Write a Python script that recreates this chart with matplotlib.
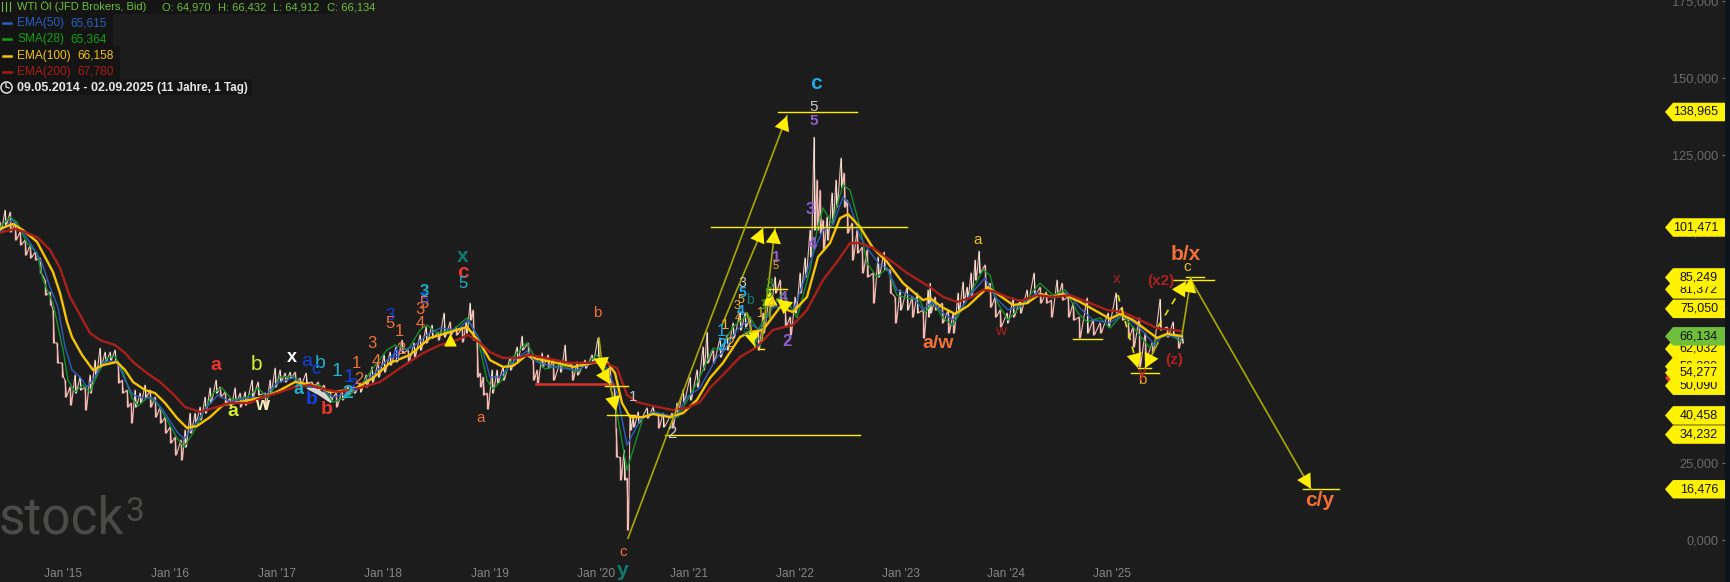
import numpy as np
import matplotlib
matplotlib.use("Agg")
import matplotlib.pyplot as plt
from matplotlib.patches import Rectangle
from matplotlib.lines import Line2D

plt.rcParams["font.family"] = ["Liberation Sans", "DejaVu Sans"]

W, H = 1730, 582
BG = "#1c1c1c"

# x is the chart column (the axis runs on sessions, so years are not evenly spaced)
tick_pos = [63, 170, 277, 383, 490, 596, 689, 795, 901, 1006, 1112]
tick_labels = ["Jan '15", "Jan '16", "Jan '17", "Jan '18", "Jan '19", "Jan '20",
               "Jan '21", "Jan '22", "Jan '23", "Jan '24", "Jan '25"]
price_ticks = [0, 25, 50, 75, 100, 125, 150, 175]

# price range per column: x, high, low
bars_x = [0, 5, 10, 15, 20, 25, 30, 35, 40, 45, 50, 53, 57, 62, 65, 70, 75, 80, 85, 90, 95, 100, 105, 110, 115, 118,
          122, 127, 131, 135, 140, 145, 150, 155, 160, 165, 170, 175, 181, 185, 190, 195, 200, 205, 210, 216, 220,
          225, 230, 235, 240, 245, 252, 258, 265, 270, 275, 280, 285, 290, 295, 300, 306, 312, 318, 324, 330, 336,
          342, 348, 354, 360, 366, 372, 378, 384, 390, 396, 402, 408, 414, 420, 426, 432, 438, 444, 450, 456, 462,
          466, 470, 473, 477, 480, 483, 487, 492, 497, 503, 510, 517, 522, 528, 533, 537, 542, 548, 553, 560, 565,
          572, 577, 585, 592, 598, 603, 610, 614, 616, 620, 624, 627, 630, 633, 638, 647, 653, 658, 663, 672, 677,
          683, 690, 697, 703, 707, 713, 720, 727, 733, 740, 745, 750, 758, 763, 770, 775, 780, 785, 790, 795, 800,
          805, 810, 814, 817, 820, 823, 827, 832, 836, 841, 844, 847, 852, 857, 862, 867, 873, 878, 884, 890, 895,
          900, 907, 912, 917, 923, 928, 930, 935, 942, 948, 953, 958, 963, 967, 971, 975, 979, 985, 990, 995, 1000,
          1007, 1013, 1020, 1027, 1034, 1040, 1046, 1051, 1057, 1062, 1068, 1073, 1079, 1087, 1093, 1100, 1108,
          1116, 1122, 1128, 1133, 1139, 1145, 1152, 1160, 1167, 1173, 1178, 1182]
bars_high = [103.2, 107.1, 106.5, 103.2, 100.0, 97.4, 95.8, 93.5, 91.6, 84.4, 80.5, 74.7, 64.0, 57.5, 51.9, 49.7, 53.6,
             52.9, 49.7, 53.6, 58.4, 62.3, 61.0, 61.0, 61.7, 57.5, 51.9, 48.7, 44.5, 48.7, 47.7, 50.3, 48.7, 46.4,
             43.2, 39.9, 36.7, 33.4, 32.5, 35.7, 41.2, 41.2, 43.2, 46.4, 49.4, 51.9, 49.7, 48.1, 46.1, 49.4, 47.7,
             48.1, 51.9, 51.3, 47.7, 51.9, 55.8, 55.2, 54.2, 54.5, 54.5, 52.6, 54.2, 51.3, 51.3, 50.3, 48.7, 47.7,
             48.7, 49.7, 49.7, 51.0, 53.6, 56.2, 57.8, 60.1, 61.0, 62.7, 64.9, 61.7, 64.0, 66.6, 69.2, 69.8, 67.5,
             73.7, 70.8, 69.2, 68.8, 70.8, 76.9, 74.7, 64.9, 54.2, 52.9, 47.7, 55.2, 55.2, 56.2, 59.4, 62.7, 66.2,
             64.0, 58.4, 55.2, 60.7, 60.1, 58.4, 57.8, 63.3, 56.8, 57.8, 58.4, 60.1, 65.6, 59.1, 56.2, 49.7, 36.4,
             26.9, 29.2, 20.1, 40.6, 39.9, 41.6, 42.9, 43.2, 41.2, 41.2, 41.2, 44.5, 48.7, 52.9, 55.2, 62.7, 67.5,
             61.7, 65.6, 66.6, 70.5, 74.0, 73.7, 72.4, 68.2, 73.7, 81.2, 85.4, 84.4, 75.6, 72.4, 78.9, 86.7, 91.6,
             100.6, 130.8, 116.9, 113.6, 103.9, 104.9, 112.7, 116.9, 124.0, 119.2, 110.4, 102.9, 100.6, 95.1, 94.2,
             86.7, 91.9, 93.5, 87.7, 78.9, 81.2, 82.1, 78.9, 80.2, 74.7, 81.2, 83.4, 78.9, 76.9, 74.7, 73.7, 80.2,
             83.8, 82.1, 86.7, 90.9, 93.8, 89.3, 83.4, 78.9, 74.7, 73.7, 78.6, 77.9, 81.2, 86.7, 82.1, 80.5, 77.9,
             84.4, 83.4, 78.9, 76.9, 72.4, 78.6, 71.4, 70.5, 73.7, 80.2, 75.6, 72.4, 69.2, 72.1, 67.2, 64.0, 78.2,
             69.2, 70.8, 65.9, 66.6]
bars_low = [100.0, 101.9, 100.0, 97.4, 95.8, 92.5, 91.6, 90.9, 86.7, 79.5, 76.3, 64.0, 57.5, 52.9, 46.4, 43.8, 47.7,
            48.7, 42.2, 47.7, 52.9, 56.2, 57.8, 58.4, 57.8, 51.0, 47.7, 43.2, 38.0, 43.2, 44.5, 46.1, 43.2, 39.9,
            38.0, 34.7, 31.5, 27.6, 26.0, 30.2, 34.7, 38.0, 39.0, 41.2, 44.5, 47.7, 46.4, 44.5, 43.2, 44.5, 43.2,
            43.8, 46.4, 47.1, 43.2, 47.7, 49.7, 51.3, 51.3, 52.6, 51.3, 50.3, 51.0, 49.4, 48.7, 46.4, 45.5, 43.2,
            45.5, 47.1, 47.7, 48.1, 49.7, 51.3, 52.9, 54.5, 56.8, 57.8, 60.7, 57.8, 59.4, 61.7, 64.0, 65.6, 64.9,
            65.9, 66.6, 66.6, 64.3, 67.2, 71.4, 64.9, 52.9, 49.7, 47.1, 42.5, 47.7, 51.0, 51.9, 55.2, 57.5, 61.7,
            59.4, 51.9, 51.0, 56.2, 55.8, 51.9, 54.5, 57.5, 51.9, 53.6, 55.8, 57.5, 58.4, 52.9, 49.7, 46.4, 26.9,
            19.5, 19.5, 3.2, 35.7, 36.7, 38.0, 39.6, 41.2, 36.4, 36.7, 36.4, 41.2, 44.5, 45.5, 49.7, 55.2, 57.5,
            57.5, 59.4, 61.7, 65.6, 68.2, 69.2, 67.2, 61.7, 67.2, 75.6, 80.2, 77.9, 69.2, 66.6, 73.7, 80.2, 85.4,
            91.9, 100.6, 100.6, 99.7, 94.2, 97.4, 102.9, 108.1, 114.6, 108.1, 99.7, 90.9, 93.2, 86.7, 85.4, 76.9,
            85.4, 87.7, 80.2, 70.5, 74.7, 74.7, 72.4, 73.7, 65.6, 72.4, 73.7, 74.7, 70.5, 67.2, 67.2, 73.7, 76.9,
            78.9, 78.9, 84.4, 86.7, 81.2, 75.6, 72.4, 69.2, 70.5, 72.4, 73.7, 76.9, 79.5, 76.9, 76.9, 72.4, 78.9,
            77.9, 72.4, 71.4, 65.6, 67.2, 66.6, 67.2, 69.2, 73.7, 71.4, 65.6, 62.7, 56.2, 58.4, 60.7, 68.2, 65.9,
            65.9, 62.3, 64.0]

ema200_x = [0, 15, 25, 38, 50, 60, 70, 80, 90, 100, 115, 125, 133, 147, 160, 173, 185, 200, 217, 230, 250, 263, 277,
            295, 310, 327, 340, 360, 380, 400, 423, 440, 457, 468, 480, 490, 503, 517, 530, 550, 570, 587, 603, 617,
            627, 637, 653, 673, 687, 700, 710, 723, 740, 757, 773, 793, 807, 823, 837, 850, 860, 873, 890, 907, 930,
            943, 957, 970, 983, 993, 1007, 1020, 1037, 1053, 1070, 1087, 1107, 1123, 1140, 1157, 1182]
ema200 = [99.8, 101.0, 100.0, 98.1, 94.2, 88.3, 78.9, 73.1, 67.2, 64.9, 63.3, 60.7, 57.8, 54.2, 51.3, 47.4, 43.2, 41.6,
          43.2, 44.5, 44.5, 46.4, 47.7, 49.7, 50.3, 48.7, 48.1, 49.4, 51.3, 55.8, 60.7, 63.3, 64.9, 66.6, 64.0, 61.0,
          59.1, 59.1, 60.1, 58.8, 57.5, 57.5, 57.8, 55.8, 47.1, 44.8, 43.5, 42.2, 42.9, 44.8, 49.4, 53.6, 59.4, 62.7,
          68.2, 69.8, 74.7, 84.4, 90.3, 96.4, 96.4, 94.8, 90.9, 86.7, 82.1, 78.9, 77.3, 78.6, 81.2, 80.8, 78.9, 77.6,
          79.5, 78.9, 79.5, 77.3, 74.7, 74.0, 71.4, 68.8, 67.8]

ema100_x = [0, 13, 23, 37, 45, 53, 60, 67, 72, 82, 93, 103, 117, 125, 133, 145, 155, 165, 177, 187, 197, 210, 223, 240,
            263, 277, 295, 313, 330, 353, 373, 390, 410, 430, 447, 467, 480, 490, 503, 513, 527, 537, 557, 573, 593,
            607, 615, 622, 630, 643, 653, 670, 683, 697, 710, 723, 740, 750, 763, 780, 793, 807, 818, 830, 840, 848,
            860, 873, 887, 903, 923, 930, 942, 955, 968, 988, 1003, 1013, 1027, 1040, 1053, 1063, 1080, 1110, 1120,
            1133, 1157, 1167, 1182]
ema100 = [101.0, 102.6, 100.6, 96.8, 91.9, 87.0, 80.2, 70.8, 65.9, 60.1, 55.2, 56.8, 57.8, 55.2, 51.3, 48.7, 47.7, 44.5,
          39.6, 36.4, 37.0, 39.9, 43.8, 44.8, 46.4, 48.1, 51.3, 50.3, 48.1, 48.7, 52.6, 57.5, 60.1, 65.6, 67.2, 69.2,
          64.0, 58.4, 56.2, 56.5, 60.1, 58.8, 57.5, 56.2, 57.5, 57.8, 54.2, 44.5, 39.9, 39.9, 40.9, 39.9, 41.2, 45.5,
          52.6, 57.5, 65.9, 67.5, 68.2, 75.6, 74.0, 78.9, 91.9, 96.4, 104.5, 105.8, 101.6, 94.8, 90.3, 83.4, 77.9,
          78.6, 75.6, 73.4, 76.0, 82.1, 78.6, 76.3, 76.9, 79.9, 78.9, 79.9, 77.3, 71.8, 73.4, 71.4, 65.6, 66.9, 66.2]

ema50_x = [0, 12, 20, 33, 42, 50, 58, 65, 72, 80, 87, 95, 103, 117, 125, 133, 143, 153, 163, 177, 184, 193, 207, 218,
           230, 250, 263, 277, 293, 307, 320, 333, 353, 373, 390, 403, 413, 427, 440, 457, 468, 480, 490, 500, 513,
           527, 537, 553, 577, 597, 607, 617, 627, 640, 653, 667, 675, 687, 700, 717, 723, 737, 747, 760, 773, 783,
           793, 810, 817, 823, 833, 843, 850, 860, 870, 880, 887, 897, 913, 923, 932, 943, 953, 970, 985, 995, 1008,
           1022, 1037, 1052, 1067, 1080, 1093, 1110, 1122, 1137, 1155, 1163, 1182]
ema50 = [100.0, 103.9, 101.3, 95.1, 89.9, 82.1, 75.6, 62.7, 55.2, 52.9, 49.7, 52.9, 57.8, 58.1, 51.9, 47.1, 46.1, 46.1,
         42.2, 35.1, 32.8, 36.7, 43.2, 47.1, 44.8, 46.4, 46.1, 51.0, 52.6, 49.7, 49.4, 46.4, 48.1, 53.6, 59.4, 61.7,
         62.7, 66.6, 68.8, 68.2, 71.4, 64.9, 52.9, 52.9, 57.8, 61.4, 57.8, 56.2, 55.2, 58.4, 55.8, 47.7, 30.8, 39.0,
         41.6, 40.6, 39.6, 46.4, 49.4, 59.4, 61.0, 68.2, 70.8, 68.2, 75.6, 75.6, 74.0, 89.9, 96.4, 100.6, 102.3, 111.4,
         108.8, 98.4, 93.5, 89.3, 88.3, 81.2, 78.9, 74.7, 77.3, 73.7, 71.4, 79.5, 85.1, 78.9, 74.7, 76.3, 80.5, 78.6,
         80.5, 75.3, 71.4, 70.5, 73.1, 69.8, 63.3, 66.6, 65.6]

sma28_x = [0, 10, 17, 27, 37, 43, 53, 63, 68, 75, 83, 90, 98, 107, 115, 123, 132, 138, 148, 157, 167, 177, 184, 193,
           203, 213, 222, 232, 247, 258, 268, 280, 293, 305, 320, 333, 347, 360, 373, 387, 395, 408, 420, 427, 437,
           453, 467, 477, 487, 493, 502, 513, 527, 535, 545, 560, 577, 597, 607, 617, 627, 637, 643, 653, 670, 678,
           697, 713, 720, 733, 748, 758, 770, 783, 797, 810, 817, 823, 832, 843, 850, 860, 867, 877, 887, 897, 907,
           920, 925, 933, 943, 953, 968, 983, 990, 997, 1008, 1020, 1040, 1053, 1065, 1078, 1087, 1100, 1110, 1122,
           1133, 1150, 1158, 1170, 1182]
sma28 = [101.6, 104.9, 103.2, 96.4, 93.2, 84.4, 76.9, 61.7, 51.9, 48.1, 50.3, 48.1, 54.2, 59.1, 59.7, 54.5, 46.1, 43.5,
         46.4, 44.5, 39.0, 33.1, 30.2, 34.7, 41.2, 47.7, 49.4, 45.5, 46.4, 49.4, 46.1, 52.9, 53.2, 49.7, 50.3, 44.8,
         46.4, 49.7, 55.8, 61.7, 63.3, 61.7, 68.2, 69.8, 67.2, 68.2, 72.1, 66.6, 51.9, 49.0, 51.9, 59.4, 64.0, 59.1,
         55.5, 56.8, 54.5, 60.1, 54.2, 41.2, 22.7, 33.4, 39.6, 41.6, 39.6, 39.9, 51.0, 62.3, 61.7, 69.2, 73.1, 68.2,
         74.7, 80.2, 72.1, 87.7, 100.6, 107.8, 102.9, 115.3, 113.6, 101.6, 89.9, 85.4, 88.3, 79.5, 78.6, 77.9, 73.7,
         77.3, 72.1, 69.8, 78.6, 87.7, 86.0, 77.3, 71.4, 75.6, 83.4, 79.5, 81.2, 73.7, 70.8, 72.1, 68.8, 73.1, 69.2,
         62.3, 65.6, 66.6, 64.3]

# horizontal target levels: price, x start, x end
levels = [(139.0, 778, 857), (101.5, 711, 907), (34.2, 665, 860), (40.5, 607, 635), (50.1, 605, 628),
          (81.4, 768, 787), (62.0, 758, 764), (65.2, 1073, 1102), (54.3, 1131, 1159), (55.8, 1138, 1151),
          (84.4, 1172, 1214), (85.25, 1186, 1204), (16.5, 1303, 1339)]

# arrows: x0, p0, x1, p1, dashed
arrows = [(628, 0.6, 787, 137.7, False), (722, 69.8, 763, 101.3, False), (762, 64.9, 775, 101.0, False),
          (747, 73.7, 755, 62.7, False), (787, 75.6, 777, 78.2, False), (770, 72.0, 770, 80.8, False),
          (599, 65.6, 603, 54.5, False), (603, 54.5, 610, 50.6, False), (610, 50.3, 616, 41.9, False),
          (1182, 66.6, 1191, 85.1, False), (1158, 69.2, 1186, 84.1, True), (1191, 84.4, 1311, 16.6, False),
          (1118, 79.5, 1138, 55.8, True), (1158, 64.0, 1145, 55.8, False)]

# price tags on the right: value, text, colour (drawn in this order)
tags = [(52.6, "", "#e8362a"), (16.476, "16,476", "#fff200"), (34.232, "34,232", "#fff200"), (40.458, "40,458", "#fff200"),
        (81.372, "81,372", "#fff200"), (85.249, "85,249", "#fff200"), (75.05, "75,050", "#fff200"),
        (138.965, "138,965", "#fff200"), (101.471, "101,471", "#fff200"), (50.09, "50,090", "#fff200"),
        (56.3, "56,300", "#fff200"), (54.277, "54,277", "#fff200"), (62.032, "62,032", "#fff200"),
        (66.134, "66,134", "#6fbe3c")]

RED, ORANGE, TEAL, CYAN, BLUE = "#e8362a", "#f07038", "#0f7a6e", "#20b0c8", "#1240e0"
LIME, GOLD, PURPLE, SKY, DARKRED = "#d4ee2a", "#eeb422", "#9060d0", "#20a8e8", "#b02020"

# wave count labels: text, x px, y px, colour, size, bold
labels = [("a", 216, 366, RED, 14, True), ("a", 233, 411, LIME, 14, True), ("b", 256, 365, LIME, 15, False),
          ("w", 262, 405, "#f5f0c0", 13, True), ("x", 292, 358, "#ffffff", 13, True), ("a", 307, 362, BLUE, 14, False),
          ("b", 320, 364, CYAN, 14, False), ("c", 316, 369, BLUE, 13, False), ("a", 298, 389, CYAN, 13, True),
          ("b", 312, 399, BLUE, 14, True), ("b", 327, 410, RED, 14, True), ("1", 337, 371, CYAN, 14, False),
          ("1", 349, 377, BLUE, 14, False), ("2", 353, 386, BLUE, 12, False), ("2", 359, 380, ORANGE, 12, False),
          ("2", 348, 393, CYAN, 14, True), ("1", 356, 364, ORANGE, 12, False), ("3", 372, 344, ORANGE, 12, False),
          ("4", 376, 362, ORANGE, 12, False), ("3", 390, 315, BLUE, 12, False), ("5", 390, 323, ORANGE, 12, False),
          ("1", 399, 331, ORANGE, 12, False), ("2", 401, 350, ORANGE, 12, False), ("4", 395, 355, BLUE, 12, False),
          ("3", 420, 310, ORANGE, 12, False), ("4", 420, 323, ORANGE, 12, False), ("3", 424, 292, CYAN, 12, True),
          ("5", 424, 299, BLUE, 12, False), ("5", 424, 303, ORANGE, 12, False), ("x", 463, 257, TEAL, 15, True),
          ("c", 463, 273, RED, 15, True), ("5", 463, 284, CYAN, 12, False), ("a", 481, 418, ORANGE, 11, False),
          ("b", 597, 313, ORANGE, 11, False), ("c", 623, 552, ORANGE, 11, False), ("y", 623, 570, TEAL, 15, True),
          ("1", 633, 397, "#c8c8c8", 11, False), ("2", 672, 434, "#c8c8c8", 12, False), ("c", 816, 84, SKY, 15, True),
          ("5", 814, 107, "#c8c8c8", 11, False), ("5", 814, 121, PURPLE, 11, True), ("3", 810, 209, PURPLE, 12, True),
          ("4", 812, 244, PURPLE, 12, True), ("1", 776, 257, PURPLE, 11, True), ("5", 776, 266, GOLD, 8, False),
          ("3", 742, 283, "#c8c8c8", 10, False), ("5", 742, 293, SKY, 10, True), ("5", 741, 300, GOLD, 9, False),
          ("b", 750, 300, TEAL, 10, False), ("3", 737, 306, GOLD, 9, False), ("4", 741, 311, SKY, 10, True),
          ("4", 738, 318, GOLD, 8, False), ("1", 725, 325, GOLD, 11, False), ("1", 721, 331, SKY, 12, False),
          ("2", 722, 346, SKY, 12, True), ("2", 730, 343, GOLD, 10, False), ("1", 761, 313, GOLD, 10, False),
          ("a", 746, 332, TEAL, 9, False), ("c", 757, 342, TEAL, 11, False), ("3", 769, 284, "#2aa52a", 10, False),
          ("5", 768, 294, "#2aa52a", 10, False), ("4", 772, 303, GOLD, 10, False), ("1", 764, 305, "#2aa52a", 10, False),
          ("2", 787, 342, PURPLE, 12, True), ("4", 784, 297, PURPLE, 10, True), ("a/w", 938, 343, ORANGE, 14, True),
          ("a", 978, 240, "#f0c020", 11, False), ("w", 1001, 331, DARKRED, 11, False), ("x", 1117, 279, DARKRED, 11, False),
          ("(x2)", 1161, 281, DARKRED, 11, True), ("b/x", 1186, 254, ORANGE, 15, True), ("c", 1187, 267, "#f0c020", 11, False),
          ("(z)", 1174, 360, DARKRED, 11, True), ("b", 1142, 380, "#e8a020", 11, False), ("y", 1142, 373, DARKRED, 11, True),
          ("c/y", 1320, 501, ORANGE, 15, True)]

legend_rows = [("EMA(50)", "65,615", "#2a5fc0", 22, 70, 113), ("SMA(28)", "65,364", "#12a012", 38, 70, 113),
               ("EMA(100)", "66,158", "#f4c20d", 54.5, 77, 120), ("EMA(200)", "67,780", "#a81c14", 70.5, 77, 120)]

dpi = 100
fig = plt.figure(figsize=(W / dpi, H / dpi), dpi=dpi, facecolor="#0c151b")
ax = fig.add_axes([0, 0, 1725 / W, 1], facecolor=BG)
ax.set_xlim(0, 1725)
ax.set_ylim((540 - 582) / 3.08, 540 / 3.08)
ax.set_axisbelow(True)
for s in ax.spines.values():
    s.set_visible(False)


def fx(x):
    return x / W


def fy(y):
    return 1 - y / H


# watermark
ax.text(fx(-1), fy(533), "stock", transform=fig.transFigure, family="Roboto", fontsize=37, color="#4a4a48",
        ha="left", va="baseline", zorder=1)
ax.text(fx(125), fy(521), "3", transform=fig.transFigure, family="Roboto", fontsize=24, color="#4a4a48",
        ha="left", va="baseline", zorder=1)

# axes
ax.set_xticks(tick_pos)
ax.set_xticklabels(tick_labels, fontsize=8.6, color="#858585")
ax.tick_params(axis="x", length=0, pad=-10)
ax.yaxis.tick_right()
ax.set_yticks(price_ticks)
ax.set_yticklabels([f"{p},000" for p in price_ticks], fontsize=9.2, color="#6a6a6a", ha="right")
ax.tick_params(axis="y", direction="in", length=2.2, width=0.8, color="#6a6a6a", pad=-5)

# price: thin bars plus a zigzag through them so it reads dense
bx = np.array(bars_x, dtype=float)
hi = np.array(bars_high)
lo = np.array(bars_low)
mid = (hi + lo) / 2
rising = np.r_[False, mid[1:] > mid[:-1]]
zx = np.column_stack([bx, bx + 1.5]).ravel()
zy = np.column_stack([hi, lo]).ravel()
ax.plot(zx, zy, color="#f2b8b0", lw=0.8, zorder=2)
ax.vlines(bx[~rising], lo[~rising], hi[~rising], color="#f4bcb4", lw=1.0, zorder=2.1)
ax.vlines(bx[rising], lo[rising], hi[rising], color="#e6e8d4", lw=0.8, zorder=2.1)
ax.plot([310, 320, 330], [49.4, 47.7, 45.5], color="#d6d6d6", lw=3.5, zorder=2.2)

# moving averages
ax.plot(sma28_x, sma28, color="#12912a", lw=1.0, zorder=3)
ax.plot(ema50_x, ema50, color="#2a5fc0", lw=1.0, zorder=3.1)
ax.plot(ema100_x, ema100, color="#f6c400", lw=1.7, zorder=3.2)
ax.plot(ema200_x, ema200, color="#a8201a", lw=1.7, zorder=3.3)

# drawings
ax.plot([536, 613], [50.6, 50.6], color="#d9342b", lw=1.8, zorder=4)
for p, x0, x1 in levels:
    ax.plot([x0, x1], [p, p], color="#ffee00", lw=1.0, zorder=4)
for x0, p0, x1, p1, dashed in arrows:
    ax.plot([x0, x1], [p0, p1], color="#e6e000" if dashed else "#a8a800", lw=1.2, ls=(0, (4, 4)) if dashed else "-", zorder=4)
    ax.annotate("", xy=(x1, p1), xytext=(x0, p0), zorder=4.5,
                arrowprops=dict(arrowstyle="-|>,head_length=0.95,head_width=0.5", color="#ffee00", lw=0,
                                mutation_scale=11, shrinkA=0, shrinkB=0))
ax.scatter([450], [64.9], marker="^", s=60, color="#ffee00", zorder=4.5)

# price tags
for i, (val, txt, col) in enumerate(tags):
    z = 20 + i
    ax.fill([1665, 1673, 1725, 1725, 1673], [val, val + 3, val + 3, val - 3, val - 3], color=col, lw=0, zorder=z)
    if txt:
        ax.text(1718, val, txt, fontsize=9.0, color="#111111", ha="right", va="center", zorder=z + 0.5)

# wave labels
for txt, x, y, col, size, bold in labels:
    fig.text(fx(x), fy(y), txt, color=col, fontsize=size, fontweight="bold" if bold else "normal", ha="center", va="center")

# header block
row_bg = "#141414"
fig.add_artist(Rectangle((0, fy(14)), fx(332), 14 / H, color=row_bg, lw=0, transform=fig.transFigure, zorder=0.5))
fig.text(fx(17), fy(7), "WTI Öl (JFD Brokers, Bid)", color="#6cbf3b", fontsize=8.0, va="center")
fig.text(fx(162), fy(7), "O: 64,970", color="#6cbf3b", fontsize=8.0, va="center")
fig.text(fx(218), fy(7), "H: 66,432", color="#6cbf3b", fontsize=8.0, va="center")
fig.text(fx(273), fy(7), "L: 64,912", color="#6cbf3b", fontsize=8.0, va="center")
fig.text(fx(327), fy(7), "C: 66,134", color="#6cbf3b", fontsize=8.0, va="center")
for name, val, col, y, vx, right in legend_rows:
    fig.add_artist(Rectangle((0, fy(y + 8)), fx(right), 16 / H, color=row_bg, lw=0, transform=fig.transFigure, zorder=0.5))
    fig.add_artist(Line2D([fx(3), fx(11)], [fy(y + 1), fy(y + 1)], color=col, lw=1.8, transform=fig.transFigure))
    fig.text(fx(17), fy(y + 1), name, color=col, fontsize=8.6, va="center")
    fig.text(fx(vx), fy(y + 1), val, color=col, fontsize=8.6, va="center")
fig.add_artist(Rectangle((0, fy(95)), fx(252), 16 / H, color=row_bg, lw=0, transform=fig.transFigure, zorder=0.5))
fig.text(fx(17), fy(88), "09.05.2014 - 02.09.2025", color="#e4e4e4", fontsize=9.0, fontweight="bold", va="center")
fig.text(fx(157), fy(88), "(11 Jahre, 1 Tag)", color="#e4e4e4", fontsize=8.4, fontweight="bold", va="center")

# header icons
fig.add_artist(Line2D([fx(6)], [fy(87)], marker="o", ms=8, mfc="none", mec="#e4e4e4", mew=1.1, transform=fig.transFigure))
fig.add_artist(Line2D([fx(6), fx(6), fx(9)], [fy(83), fy(87), fy(88)], color="#e4e4e4", lw=0.9, transform=fig.transFigure))
for x0 in (2, 6, 10):
    fig.add_artist(Line2D([fx(x0), fx(x0)], [fy(2), fy(11)], color="#6cbf3b", lw=0.8, transform=fig.transFigure))

fig.savefig("out.png", dpi=dpi, facecolor=fig.get_facecolor())
